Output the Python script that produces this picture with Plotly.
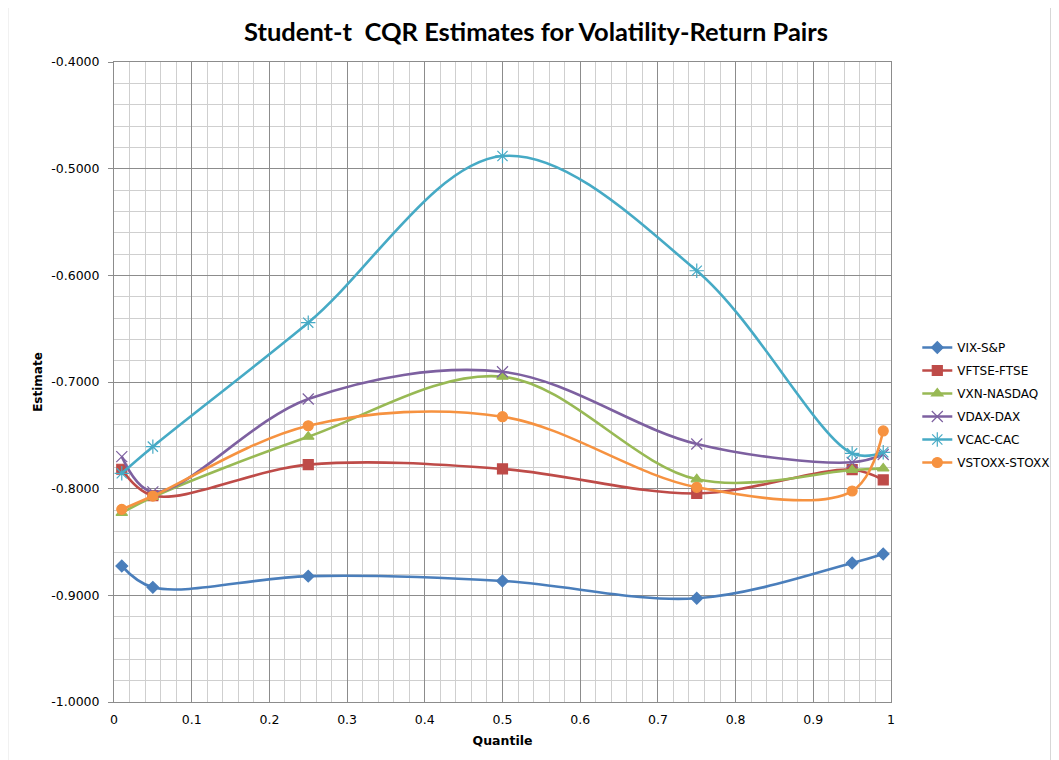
import plotly.graph_objects as go

quantiles = [0.01, 0.05, 0.25, 0.5, 0.75, 0.95, 0.99]
series_names = ["VIX-S&P", "VFTSE-FTSE", "VXN-NASDAQ", "VDAX-DAX", "VCAC-CAC", "VSTOXX-STOXX"]
vix_sp = [-0.8725, -0.8925, -0.8820, -0.8865, -0.9028, -0.8697, -0.8612]
vftse_ftse = [-0.7818, -0.8065, -0.7775, -0.7815, -0.8045, -0.7822, -0.7918]
vxn_nasdaq = [-0.8228, -0.8078, -0.7513, -0.6950, -0.7912, -0.7825, -0.7810]
vdax_dax = [-0.7700, -0.8030, -0.7159, -0.6904, -0.7581, -0.7753, -0.7680]
vcac_cac = [-0.7856, -0.7606, -0.6444, -0.4881, -0.5957, -0.7669, -0.7659]
vstoxx_stoxx = [-0.8194, -0.8069, -0.7410, -0.7325, -0.7987, -0.8022, -0.7459]
values = [vix_sp, vftse_ftse, vxn_nasdaq, vdax_dax, vcac_cac, vstoxx_stoxx]

x_tick_vals = [0, 0.1, 0.2, 0.3, 0.4, 0.5, 0.6, 0.7, 0.8, 0.9, 1.0]
x_tick_text = ["0", "0.1", "0.2", "0.3", "0.4", "0.5", "0.6", "0.7", "0.8", "0.9", "1"]
y_tick_vals = [-1.0, -0.9, -0.8, -0.7, -0.6, -0.5, -0.4]
y_tick_text = ["-1.0000", "-0.9000", "-0.8000", "-0.7000", "-0.6000", "-0.5000", "-0.4000"]

colors = ["#4A7EBB", "#BE4B48", "#98B954", "#7D60A0", "#46AAC5", "#F69240"]
symbols = ["diamond", "square", "triangle-up", "x-thin-open", "asterisk-open", "circle"]
sizes = [9, 10, 10, 11, 12, 10]

fig = go.Figure()
for name, vals, c, s, sz in zip(series_names, values, colors, symbols, sizes):
    fig.add_trace(go.Scatter(
        x=quantiles, y=vals, name=name, mode="lines+markers", legendgroup=name,
        line=dict(color=c, width=2.6, shape="spline", smoothing=1.0),
        marker=dict(symbol=s, size=sz, color=c, line=dict(color=c, width=1.2)),
    ))

# page is offset by the 8px body margin of the browser
OFF = 8
W, H = 1059 - OFF, 760 - OFF
L, T = 113.5 - OFF, 62 - OFF
pw, ph = 777.2, 640
R, B = W - L - pw, H - T - ph

def px_x(p):
    return (p - OFF - L) / pw

def px_y(p):
    return (T + ph - (p - OFF)) / ph

fig.update_layout(
    width=W, height=H,
    margin=dict(l=L, r=R, t=T, b=B, autoexpand=False),
    paper_bgcolor="white", plot_bgcolor="white",
    font=dict(family="DejaVu Sans", size=12, color="#000000"),
    title=dict(text="<b>Student-t  CQR Estimates for Volatility-Return Pairs</b>",
               font=dict(family="Lato", size=25.5, color="#000000"),
               x=(536 - OFF) / W, xanchor="center", y=1 - (32 - OFF) / H, yanchor="middle", yref="container"),
    showlegend=True,
    legend=dict(x=px_x(917), xanchor="left", y=px_y(405), yanchor="middle",
                font=dict(family="DejaVu Sans", size=12), bgcolor="rgba(0,0,0,0)",
                tracegroupgap=4),
    xaxis=dict(
        range=[0, 1], tickmode="array", tickvals=x_tick_vals, ticktext=x_tick_text,
        showgrid=True, gridcolor="#8C8C8C", gridwidth=1,
        minor=dict(tickmode="linear", tick0=0, dtick=0.02, showgrid=True, gridcolor="#CFCFCF", gridwidth=1),
        showline=True, linecolor="#8C8C8C", linewidth=1, mirror=True,
        zeroline=False, ticks="", ticklen=0, ticklabelstandoff=6,
        title=dict(text="<b>Quantile</b>", font=dict(size=12.5), standoff=10),
        tickfont=dict(size=12.5),
    ),
    yaxis=dict(
        range=[-1.0, -0.4], tickmode="array", tickvals=y_tick_vals, ticktext=y_tick_text,
        showgrid=True, gridcolor="#8C8C8C", gridwidth=1,
        minor=dict(tickmode="linear", tick0=-1.0, dtick=0.02, showgrid=True, gridcolor="#CFCFCF", gridwidth=1),
        showline=True, linecolor="#8C8C8C", linewidth=1, mirror=True,
        zeroline=False, ticks="outside", ticklen=5, tickcolor="#8C8C8C", ticklabelstandoff=6,
        title=dict(text="<b>Estimate</b>", font=dict(size=12), standoff=6),
        tickfont=dict(size=12.5),
    ),
    shapes=[dict(type="rect", xref="paper", yref="paper",
                 x0=px_x(7), x1=px_x(1051), y0=px_y(762), y1=px_y(7),
                 line=dict(color="#8C8C8C", width=1.2), fillcolor="rgba(0,0,0,0)", layer="below")],
)

fig.write_html("out.html")
